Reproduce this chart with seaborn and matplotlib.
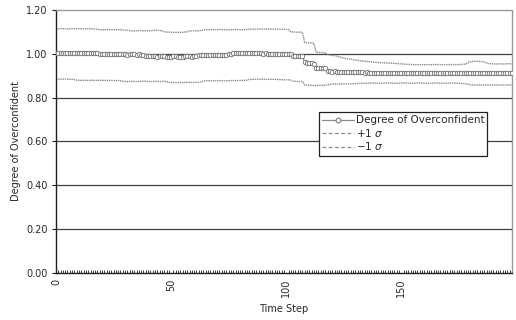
import numpy as np
import pandas as pd
import matplotlib.pyplot as plt
import seaborn as sns
from matplotlib.lines import Line2D
from matplotlib.ticker import MultipleLocator, FormatStrFormatter

# Degree of overconfidence per time step (0..198)
mean_vals = [
    1.003, 1.004, 1.003, 1.002, 1.003, 1.003, 1.004, 1.003, 1.002, 1.003,
    1.003, 1.002, 1.003, 1.004, 1.003, 1.003, 1.002, 1.003, 1.002,
    0.999, 0.998, 0.999, 0.998, 0.997, 0.998, 0.999, 0.998, 0.997, 0.998,
    0.999, 0.998, 0.996, 0.997, 0.998, 0.997, 0.996, 0.997, 0.996,
    0.994, 0.992, 0.990,
    0.989, 0.988, 0.988, 0.987, 0.988, 0.989, 0.988, 0.987, 0.986, 0.987,
    0.988, 0.988, 0.987, 0.986, 0.987, 0.988, 0.989, 0.988, 0.987, 0.988, 0.989,
    0.993, 0.994, 0.995, 0.995, 0.994, 0.995, 0.996, 0.995, 0.994, 0.995,
    0.996, 0.995, 0.996, 0.997, 0.998,
    1.002, 1.003, 1.004, 1.003, 1.002, 1.003, 1.004, 1.004, 1.003, 1.002,
    1.003, 1.003, 1.002, 1.001, 1.002, 1.001, 1.000, 1.001, 1.000, 0.999,
    1.000, 0.999, 0.999, 0.998,
    0.998, 0.997,
    0.992, 0.991, 0.990, 0.991, 0.989,
    0.962, 0.958, 0.956, 0.957, 0.955,
    0.937, 0.935, 0.934, 0.935, 0.933,
    0.921, 0.920, 0.919, 0.920, 0.918, 0.919, 0.918, 0.917, 0.918, 0.917,
    0.916, 0.917, 0.916, 0.915, 0.916, 0.915, 0.914, 0.915, 0.914, 0.913,
    0.914, 0.913, 0.912,
    0.913, 0.912, 0.911, 0.912, 0.912, 0.911, 0.912, 0.913, 0.912, 0.911,
    0.911, 0.912, 0.912, 0.911, 0.910, 0.911, 0.912, 0.912, 0.911, 0.912,
    0.913, 0.912, 0.911, 0.912, 0.913, 0.913, 0.912, 0.911, 0.912, 0.912,
    0.913, 0.914, 0.913, 0.912, 0.911, 0.912, 0.913, 0.912, 0.912, 0.911,
    0.912, 0.913, 0.912, 0.911, 0.912, 0.912, 0.913, 0.912, 0.911, 0.912,
    0.912, 0.911, 0.912, 0.913, 0.912, 0.912, 0.911, 0.912,
]

upper_vals = [
    1.114, 1.114, 1.115, 1.114, 1.114, 1.113, 1.114, 1.114, 1.115, 1.114,
    1.114, 1.114, 1.113, 1.114, 1.114, 1.114, 1.113, 1.113, 1.112,
    1.110, 1.110, 1.109, 1.110, 1.110, 1.110, 1.109, 1.110, 1.110, 1.109,
    1.109, 1.108, 1.107,
    1.105, 1.105, 1.104, 1.105, 1.105, 1.106, 1.105, 1.105, 1.104, 1.105,
    1.106, 1.107, 1.107, 1.106, 1.105,
    1.100, 1.099, 1.099, 1.098, 1.098, 1.097, 1.098, 1.097, 1.098, 1.099, 1.100,
    1.104, 1.105, 1.105, 1.104, 1.105, 1.106,
    1.109, 1.110, 1.110, 1.110, 1.109, 1.110, 1.110, 1.111, 1.110, 1.110,
    1.109, 1.110, 1.110, 1.110, 1.111, 1.110, 1.110, 1.109, 1.110, 1.111,
    1.112, 1.112, 1.111, 1.112,
    1.113, 1.113, 1.112, 1.113, 1.113, 1.112, 1.112, 1.113, 1.112, 1.112,
    1.111, 1.112, 1.111, 1.110,
    1.100, 1.099, 1.099, 1.098, 1.099, 1.098,
    1.052, 1.050, 1.049, 1.050, 1.047,
    1.007, 1.006, 1.005, 1.006, 1.004,
    0.996, 0.994, 0.993, 0.991, 0.989, 0.986, 0.983, 0.980, 0.978, 0.976,
    0.975, 0.973, 0.971, 0.970, 0.968, 0.967, 0.966, 0.965, 0.964, 0.963,
    0.962, 0.961, 0.960,
    0.959, 0.959, 0.958, 0.958, 0.957, 0.957, 0.956, 0.955, 0.955, 0.954,
    0.953, 0.952, 0.952, 0.951, 0.951, 0.950, 0.950, 0.951, 0.950, 0.950,
    0.950, 0.951, 0.950, 0.950, 0.951, 0.951, 0.950, 0.950, 0.951, 0.950,
    0.950, 0.951, 0.951, 0.950, 0.951, 0.951, 0.952, 0.953,
    0.960, 0.964, 0.965, 0.966, 0.965, 0.965, 0.964, 0.962, 0.958,
    0.955, 0.954, 0.954, 0.953, 0.954, 0.954, 0.953, 0.954, 0.954, 0.955, 0.954,
]

lower_vals = [
    0.884, 0.885, 0.884, 0.884, 0.885, 0.884, 0.884, 0.883, 0.883,
    0.879, 0.879, 0.878, 0.879, 0.879, 0.878, 0.879, 0.879, 0.878, 0.878,
    0.879, 0.879, 0.878, 0.878, 0.879, 0.878, 0.878, 0.877, 0.878, 0.877,
    0.874, 0.874, 0.873, 0.874, 0.874, 0.874, 0.873, 0.874, 0.874, 0.875,
    0.874, 0.874, 0.873, 0.874, 0.874, 0.874, 0.873, 0.874, 0.874, 0.873,
    0.870, 0.869, 0.869, 0.868, 0.869, 0.869, 0.868, 0.869, 0.869, 0.870,
    0.869, 0.869, 0.870, 0.870, 0.871,
    0.876, 0.877, 0.877, 0.876, 0.877, 0.877, 0.878, 0.877, 0.877, 0.876,
    0.877, 0.877, 0.878, 0.878, 0.877, 0.878, 0.878, 0.879, 0.879, 0.880,
    0.883, 0.883, 0.884, 0.883, 0.883, 0.884, 0.884, 0.883, 0.883, 0.884,
    0.884, 0.883, 0.883, 0.882, 0.882, 0.881, 0.881, 0.881, 0.880,
    0.875, 0.874, 0.874, 0.873, 0.874,
    0.858, 0.857, 0.856, 0.856, 0.855, 0.855, 0.856, 0.856, 0.855, 0.857, 0.858,
    0.861, 0.862, 0.862, 0.861, 0.862, 0.862, 0.863, 0.862, 0.862, 0.863,
    0.863, 0.864, 0.864, 0.865, 0.865, 0.865, 0.866,
    0.866, 0.866, 0.867, 0.866, 0.866, 0.865, 0.866, 0.866, 0.867, 0.866,
    0.866, 0.865, 0.866, 0.866, 0.866, 0.867, 0.866, 0.866, 0.865, 0.866,
    0.866, 0.867, 0.867, 0.866, 0.866, 0.865, 0.866, 0.866, 0.866, 0.867,
    0.866, 0.866, 0.865, 0.866, 0.866, 0.866, 0.867, 0.866, 0.866, 0.865,
    0.865, 0.864, 0.863, 0.861,
    0.858, 0.858, 0.857, 0.858, 0.858, 0.857, 0.858, 0.858, 0.857, 0.857,
    0.858, 0.858, 0.857, 0.858, 0.858, 0.857, 0.858, 0.858, 0.857,
]

steps = np.arange(len(mean_vals))
x_labels = [0, 50, 100, 150]

df = pd.DataFrame({'step': steps, 'mean': mean_vals,
                   'upper': upper_vals, 'lower': lower_vals})

sns.set_style('white')
plt.rcParams['font.family'] = ['DejaVu Sans']
plt.rcParams['font.size'] = 7

fig = plt.figure(figsize=(5.16, 3.2), dpi=100)
ax = fig.add_axes([0.1085, 0.147, 0.8835, 0.822])

line_gray = '#8a8a8a'

# horizontal gridlines (solid, dark) drawn under the data
for y in np.arange(0.2, 1.01, 0.2):
    ax.axhline(y, color='#404040', linewidth=0.9, zorder=1)

sns.lineplot(data=df, x='step', y='upper', ax=ax, color=line_gray,
             linewidth=1.0, linestyle=(0, (1, 0.6)), zorder=2)
sns.lineplot(data=df, x='step', y='lower', ax=ax, color=line_gray,
             linewidth=1.0, linestyle=(0, (1, 0.6)), zorder=2)
sns.lineplot(data=df, x='step', y='mean', ax=ax, color=line_gray,
             linewidth=0.9, marker='o', markersize=3.2,
             markerfacecolor='white', markeredgecolor='#707070',
             markeredgewidth=0.6, zorder=3)

ax.set_xlim(0, len(mean_vals) - 1)
ax.set_ylim(0, 1.2)
ax.yaxis.set_major_locator(MultipleLocator(0.2))
ax.yaxis.set_major_formatter(FormatStrFormatter('%.2f'))
ax.set_xticks(x_labels)
ax.set_xticklabels([str(v) for v in x_labels], rotation=90)
ax.xaxis.set_minor_locator(MultipleLocator(1))
ax.tick_params(axis='x', which='major', direction='in', length=3,
               color='#202020', pad=4)
ax.tick_params(axis='x', which='minor', direction='in', length=2,
               width=0.6, color='#202020', bottom=True)
ax.tick_params(axis='y', direction='out', length=3, color='#202020', pad=3,
               left=True)

for side in ['left', 'bottom']:
    ax.spines[side].set_color('#202020')
    ax.spines[side].set_linewidth(1.0)
for side in ['top', 'right']:
    ax.spines[side].set_color('#9a9a9a')
    ax.spines[side].set_linewidth(1.0)
    ax.spines[side].set_linestyle((0, (1, 1)))

ax.set_xlabel('Time Step', fontsize=7, labelpad=5)
ax.set_ylabel('Degree of Overconfident', fontsize=7, labelpad=4)

handles = [
    Line2D([], [], color=line_gray, linewidth=0.9, marker='o', markersize=3.5,
           markerfacecolor='white', markeredgecolor='#707070',
           markeredgewidth=0.7),
    Line2D([], [], color=line_gray, linewidth=0.9, linestyle=(0, (3, 2))),
    Line2D([], [], color=line_gray, linewidth=0.9, linestyle=(0, (3, 2))),
]
labels = ['Degree of Overconfident', r'+1 $\sigma$', '\u22121 $\\sigma$']
leg = ax.legend(handles, labels, loc='upper left',
                bbox_to_anchor=(0.566, 0.631), fontsize=7.5, numpoints=1,
                handlelength=3.0, handletextpad=0.2, labelspacing=0.15,
                borderpad=0.3, frameon=True, fancybox=False, framealpha=1)
leg.get_frame().set_edgecolor('#202020')
leg.get_frame().set_linewidth(0.9)
leg.set_zorder(5)

fig.savefig('out.png', dpi=100, facecolor='white')
